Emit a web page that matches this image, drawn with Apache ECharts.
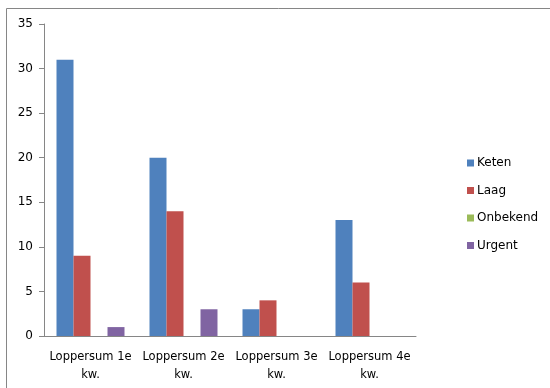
<!DOCTYPE html>
<html lang="nl">

<head>
    <meta charset="UTF-8">
    <title>Loppersum</title>
    <style>
        html, body { margin: 0; padding: 0; background: #fff; }
        #chart { width: 550px; height: 388px; }
    </style>
    <script src="https://cdn.jsdelivr.net/npm/echarts@6/dist/echarts.min.js"></script>
</head>

<body>
    <div id="chart"></div>

    <script>
        var categories = ['Loppersum 1e kw.', 'Loppersum 2e kw.', 'Loppersum 3e kw.', 'Loppersum 4e kw.'];
        var keten = [31, 20, 3, 13];
        var laag = [9, 14, 4, 6];
        var onbekend = [0, 0, 0, 0];
        var urgent = [1, 3, 0, 0];
        var yTicks = [0, 5, 10, 15, 20, 25, 30, 35];

        var font = 'DejaVu Sans';
        var myChart = echarts.init(document.getElementById('chart'));

        function bar(name, data, color) {
            return {
                name: name,
                type: 'bar',
                data: data,
                barWidth: 17,
                barGap: '0%',
                itemStyle: { color: color },
                animation: false
            };
        }

        var option = {
            animation: false,
            textStyle: { fontFamily: font },
            // chart area border (only top and left edges are in the picture)
            graphic: [
                { type: 'line', shape: { x1: 6.5, y1: 8.5, x2: 550, y2: 8.5 }, style: { stroke: '#868686', lineWidth: 1 } },
                { type: 'line', shape: { x1: 6.5, y1: 8.5, x2: 6.5, y2: 388 }, style: { stroke: '#868686', lineWidth: 1 } }
            ],
            grid: { left: 44, right: 134, top: 24, bottom: 52 },
            legend: {
                orient: 'vertical',
                left: 462,
                top: 151,
                itemWidth: 7,
                itemHeight: 7,
                itemGap: 13.5,
                icon: 'rect',
                textStyle: { fontFamily: font, fontSize: 12, color: '#000', lineHeight: 14, padding: [0, 0, 0, -2] },
                data: ['Keten', 'Laag', 'Onbekend', 'Urgent']
            },
            xAxis: {
                type: 'category',
                data: categories,
                axisLine: { lineStyle: { color: '#868686' } },
                axisTick: { length: 5, lineStyle: { color: '#868686' } },
                axisLabel: {
                    interval: 0,
                    margin: 12,
                    fontFamily: font,
                    fontSize: 11.5,
                    lineHeight: 18,
                    color: '#000',
                    formatter: function (v) { return v.replace(' kw.', '\nkw.'); }
                }
            },
            yAxis: {
                type: 'value',
                min: yTicks[0],
                max: yTicks[yTicks.length - 1],
                interval: 5,
                axisLine: { show: true, lineStyle: { color: '#868686' } },
                axisTick: { show: true, length: 5, lineStyle: { color: '#868686' } },
                splitLine: { show: false },
                axisLabel: { margin: 11, fontFamily: font, fontSize: 12, color: '#000' }
            },
            series: [
                bar('Keten', keten, '#4F81BD'),
                bar('Laag', laag, '#C0504D'),
                bar('Onbekend', onbekend, '#9BBB59'),
                bar('Urgent', urgent, '#8064A2')
            ]
        };

        myChart.setOption(option);
    </script>
</body>

</html>
